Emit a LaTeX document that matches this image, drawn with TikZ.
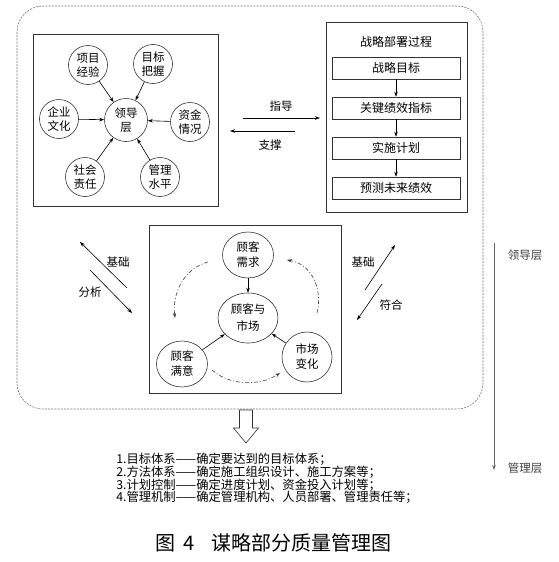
\documentclass[tikz,border=0pt]{standalone}
\usepackage{fontspec}
\setmainfont{Noto Sans CJK SC}
\usetikzlibrary{arrows.meta,shapes.geometric}

\begin{document}
\begin{tikzpicture}[x=1pt,y=-1pt,line width=0.6pt,>={Stealth[length=5pt,width=3.5pt]},
  circnode/.style={circle,draw=black!80,minimum size=39pt,inner sep=0pt,align=center,font=\fontsize{11.5}{14}\selectfont},
  ellnode/.style={ellipse,draw=black!80,minimum width=51pt,minimum height=46pt,inner sep=0pt,align=center,font=\fontsize{11.5}{15}\selectfont},
  stagebox/.style={rectangle,draw=black!80,minimum width=128pt,minimum height=22pt,inner sep=0pt,font=\fontsize{12}{14}\selectfont},
  boxframe/.style={rectangle,draw=black!80,inner sep=0pt},
  lbl/.style={inner sep=0pt,font=\fontsize{11.5}{14}\selectfont},
  loopflow/.style={->,dash pattern=on 4pt off 2pt on 1pt off 2pt,black!75}]
\useasboundingbox (0,0) rectangle (558,562);
\draw[black!55,dash pattern=on 2pt off 1.2pt,rounded corners=26pt] (17,6) rectangle (483,409);

\path
(125.5,120) node[boxframe,minimum width=185pt,minimum height=172pt] (leadbox) {}
(126,120) node[circnode,minimum size=43pt] (lead) {领导\\层}
(88,65) node[circnode] (exper) {项目\\经验}
(153,64) node[circnode] (goal) {目标\\把握}
(59,119) node[circnode] (culture) {企业\\文化}
(190,122) node[circnode] (fund) {资金\\情况}
(85,177) node[circnode] (duty) {社会\\责任}
(160,177) node[circnode] (level) {管理\\水平}

(396.5,117) node[boxframe,minimum width=141pt,minimum height=190pt] (planbox) {}
(396,42) node[lbl,font=\fontsize{12}{14}\selectfont] (plantitle) {战略部署过程}
(396,68) node[stagebox] (target) {战略目标}
(396,108) node[stagebox] (kpi) {关键绩效指标}
(396,148) node[stagebox] (impl) {实施计划}
(396,188) node[stagebox] (forecast) {预测未来绩效}

(245,309) node[boxframe,minimum width=192pt,minimum height=168pt] (custbox) {}
(248,255) node[ellnode] (demand) {顾客\\需求}
(248,318) node[ellnode,minimum width=60pt,minimum height=50pt,font=\fontsize{11.5}{17}\selectfont] (market) {顾客与\\市场}
(182,364) node[ellnode] (satis) {顾客\\满意}
(307,357) node[ellnode,minimum width=50pt,minimum height=50pt] (change) {市场\\变化}
;

\coordinate (guideA) at (243,118);
\coordinate (guideB) at (320,118);
\coordinate (backA) at (295,131);
\coordinate (backB) at (230,131);
\coordinate (lbaseA) at (127,288);
\coordinate (lbaseB) at (80,242);
\coordinate (lanaA) at (90,270);
\coordinate (lanaB) at (132,313);
\coordinate (rbaseA) at (365,290);
\coordinate (rbaseB) at (395,245);
\coordinate (rfitA) at (382,284);
\coordinate (rfitB) at (357,320);
\coordinate (loopA) at (208,262);
\coordinate (loopB) at (175,318);
\coordinate (loopC) at (212,370);
\coordinate (loopD) at (280,373);
\coordinate (loopE) at (317,313);
\coordinate (loopF) at (287,260);
\coordinate (leveltop) at (494,243);
\coordinate (levelbot) at (494,470);

\draw[->] (exper) -- (lead);
\draw[->] (goal) -- (lead);
\draw[->] (culture) -- (lead);
\draw[->] (fund) -- (lead);
\draw[->] (duty) -- (lead);
\draw[->] (level) -- (lead);

\draw[->] (target) -- (kpi);
\draw[->] (kpi) -- (impl);
\draw[->] (impl) -- (forecast);

\draw[->] (guideA) -- (guideB);
\draw[->] (backA) -- (backB);
\node[lbl] (guidelbl) at (281,106) {指导};
\node[lbl] (backlbl) at (270,145) {支撑};

\draw[->] (demand) -- (market);
\draw[->] (satis) -- (market);
\draw[->] (change) -- (market);
\draw[loopflow] (loopA) .. controls (185,268) and (172,292) .. (loopB);
\draw[loopflow] (loopC) .. controls (230,386) and (260,386) .. (loopD);
\draw[loopflow] (loopE) .. controls (323,290) and (312,264) .. (loopF);

\draw[->] (lbaseA) -- (lbaseB);
\draw[->] (lanaA) -- (lanaB);
\node[lbl] (lbaselbl) at (118,262) {基础};
\node[lbl] (lanalbl) at (90,292) {分析};
\draw[->] (rbaseA) -- (rbaseB);
\draw[->] (rfitA) -- (rfitB);
\node[lbl] (rbaselbl) at (363,262) {基础};
\node[lbl] (rfitlbl) at (391,305) {符合};

\draw[->,black!60] (leveltop) -- (levelbot);
\node[lbl,black!75] (toplbl) at (525,255) {领导层};
\node[lbl,black!75] (botlbl) at (525,468) {管理层};

\draw[black!80] (239.5,410) -- (252.5,410) -- (252.5,428) -- (258.5,428) -- (246,443) -- (233.5,428) -- (239.5,428) -- cycle;

\node[anchor=north west,inner sep=0pt,align=left,font=\fontsize{12.3}{12.4}\selectfont] (steps) at (116,453)
  {1.目标体系——确定要达到的目标体系；\\
   2.方法体系——确定施工组织设计、施工方案等；\\
   3.计划控制——确定进度计划、资金投入计划等；\\
   4.管理机制——确定管理机构、人员部署、管理责任等；};

\node[inner sep=0pt,font=\fontsize{20}{22}\selectfont] (caption) at (273.5,543) {图\hspace{8pt}4\hspace{16pt}谋略部分质量管理图};
\end{tikzpicture}
\end{document}
